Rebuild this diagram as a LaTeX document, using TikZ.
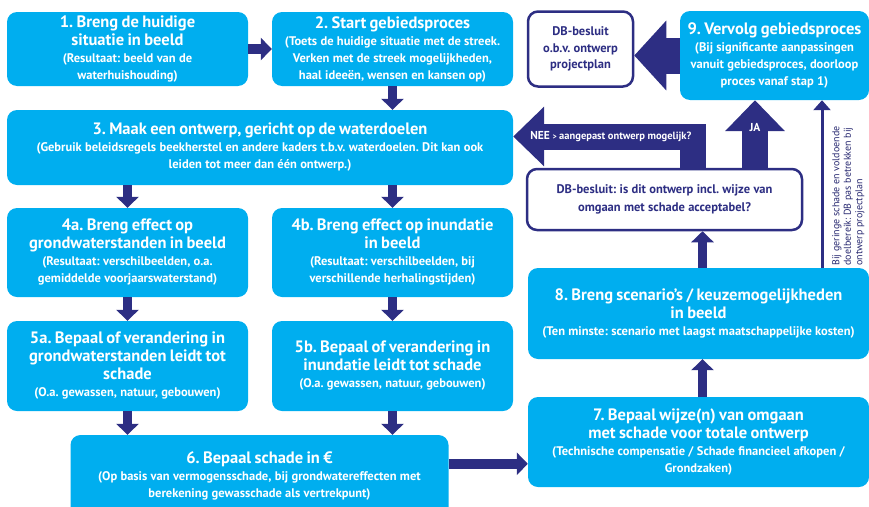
\documentclass[tikz,border=0pt]{standalone}
\usepackage{fontspec}
\setmainfont{PT Sans}
\usetikzlibrary{arrows.meta,calc}
\definecolor{boxblue}{RGB}{0,174,239}
\definecolor{arrowblue}{RGB}{45,46,131}
\newcommand{\stepfont}{\fontsize{16.5}{18}\selectfont\bfseries}
\newcommand{\notefont}{\fontsize{12.5}{17}\selectfont\bfseries}
\newcommand{\decfont}{\fontsize{12.5}{18}\selectfont\bfseries}
\frenchspacing

\begin{document}
\begin{tikzpicture}[x=1pt,y=-1pt,
	stage/.style={fill=boxblue, rounded corners=10pt, text=white, align=center, inner sep=0pt},
	decision/.style={draw=arrowblue, line width=2.5pt, fill=white, rounded corners=10pt, text=arrowblue, align=center, inner sep=0pt},
	fat/.style={draw=arrowblue, line width=9.5pt, -{Triangle[width=22pt,length=11pt]}},
	wide/.style={draw=arrowblue, line width=26pt, line join=miter, -{Triangle[width=58pt,length=31pt]}},
	big/.style={draw=arrowblue, line width=36pt, -{Triangle[width=68pt,length=32pt]}},
	slim/.style={draw=arrowblue, line width=3pt, -{Triangle[width=17pt,length=10pt]}},
	sidenote/.style={text=arrowblue!85!black, font=\fontsize{10}{11.5}\selectfont, align=left, inner sep=0pt}]
		\useasboundingbox (0,0) rectangle (869,506);
		% top row
		\node[stage, minimum width=241pt, minimum height=74pt, text width=236pt] (s1) at (127.5,49)
			{\stepfont 1. Breng de huidige\\ situatie in beeld\par\notefont (Resultaat: beeld van de\\ waterhuishouding)\par};
		\node[stage, minimum width=241pt, minimum height=74pt, text width=236pt] (s2) at (392.5,49)
			{\stepfont 2. Start gebiedsproces\par\notefont (Toets de huidige situatie met de streek.\\ Verken met de streek mogelijkheden,\\ haal ideeën, wensen en kansen op)\par};
		\node[decision, minimum width=105pt, minimum height=75pt, text width=100pt] (db) at (580.5,49)
			{\fontsize{12.5}{16.5}\selectfont\bfseries DB-besluit\\ o.b.v. ontwerp\\ projectplan\par};
		\node[stage, minimum width=189pt, minimum height=89pt, text width=184pt] (s9) at (774.5,55.5)
			{\stepfont 9. Vervolg gebiedsproces\par\notefont (Bij significante aanpassingen\\ vanuit gebiedsproces, doorloop\\ proces vanaf stap 1)\par};
		% ontwerp
		\node[stage, minimum width=506pt, minimum height=75pt, text width=500pt] (s3) at (260,147.5)
			{\stepfont 3. Maak een ontwerp, gericht op de waterdoelen\par\notefont (Gebruik beleidsregels beekherstel en andere kaders t.b.v. waterdoelen. Dit kan ook\\ leiden tot meer dan één ontwerp.)\par};
		\node[decision, minimum width=275pt, minimum height=61pt, text width=268pt] (dec) at (664.5,199.5)
			{\decfont DB-besluit: is dit ontwerp incl. wijze van\\ omgaan met schade acceptabel?\par};
		% effecten
		\node[stage, minimum width=241pt, minimum height=89pt, text width=236pt] (s4a) at (127.5,252.5)
			{\stepfont 4a. Breng effect op\\ grondwaterstanden in beeld\par\notefont (Resultaat: verschilbeelden, o.a.\\ gemiddelde voorjaarswaterstand)\par};
		\node[stage, minimum width=241pt, minimum height=89pt, text width=236pt] (s4b) at (392.5,252.5)
			{\stepfont 4b. Breng effect op inundatie\\ in beeld\par\notefont (Resultaat: verschilbeelden, bij\\ verschillende herhalingstijden)\par};
		\node[stage, minimum width=241pt, minimum height=90pt, text width=236pt] (s5a) at (127.5,366)
			{\stepfont 5a. Bepaal of verandering in\\ grondwaterstanden leidt tot\\ schade\par\notefont (O.a. gewassen, natuur, gebouwen)\par};
		\node[stage, minimum width=241pt, minimum height=90pt, text width=236pt] (s5b) at (392.5,366)
			{\stepfont 5b. Bepaal of verandering in\\ inundatie leidt tot schade\par\notefont (O.a. gewassen, natuur, gebouwen)\par};
		\node[stage, minimum width=378pt, minimum height=82pt, text width=372pt] (s6) at (259.5,476)
			{\stepfont 6. Bepaal schade in €\par\notefont (Op basis van vermogensschade, bij grondwatereffecten met\\ berekening gewasschade als vertrekpunt)\par};
		% rechts
		\node[stage, minimum width=341pt, minimum height=90pt, text width=336pt] (s7) at (698.5,442)
			{\stepfont 7. Bepaal wijze(n) van omgaan\\ met schade voor totale ontwerp\par\notefont (Technische compensatie / Schade financieel afkopen /\\ Grondzaken)\par};
		\node[stage, minimum width=341pt, minimum height=91pt, text width=336pt] (s8) at (698.5,313.5)
			{\stepfont 8. Breng scenario’s / keuzemogelijkheden\\ in beeld\par\notefont (Ten minste: scenario met laagst maatschappelijke kosten)\par};

		% pijlen
		\draw[fat] (s1.east) -- (s2.west);
		\draw[fat] (s2.south) -- (s2.south |- s3.north);
		\draw[fat] (s3.south -| s4a.north) -- (s4a.north);
		\draw[fat] (s3.south -| s4b.north) -- (s4b.north);
		\draw[fat] (s4a.south) -- (s5a.north);
		\draw[fat] (s4b.south) -- (s5b.north);
		\draw[fat] (s5a.south) -- (s5a.south |- s6.north);
		\draw[fat] (s5b.south) -- (s5b.south |- s6.north);
		\coordinate (a67) at ([yshift=-29pt]s6.north east);
		\draw[fat] (a67) -- (a67 -| s7.west);
		\coordinate (up7) at ([xshift=4pt]s7.north);
		\draw[fat] (up7) -- (up7 |- s8.south);
		\coordinate (up8) at ([xshift=4pt]s8.north);
		\draw[fat] (up8) -- (up8 |- dec.south);
		\draw[big] (s9.west) -- (s9.west -| db.east);

		\coordinate (neefoot) at ([xshift=28pt]dec.north);
		\coordinate (neetip) at ([yshift=11pt]s3.east);
		\draw[wide] (neefoot) |- (neetip);
		\node[anchor=west, text=white, inner sep=0pt, font=\bfseries] (nee) at ([xshift=17pt]neetip)
			{{\fontsize{11.5}{12}\selectfont NEE} {\fontsize{8}{8}\selectfont >} {\fontsize{10.5}{12}\selectfont aangepast ontwerp mogelijk?}};

		\coordinate (jafoot) at ([xshift=90.5pt]dec.north);
		\draw[wide] (jafoot) -- (jafoot |- s9.south)
			node[pos=0.6, text=white, font=\fontsize{11.5}{12}\selectfont\bfseries] (ja) {JA};

		\coordinate (thin) at ([xshift=123.5pt]s8.north);
		\draw[slim] (thin) -- (thin |- s9.south);
		\node[sidenote, anchor=north west, rotate=90] (side) at ([xshift=10pt,yshift=2pt]thin)
			{Bij geringe schade en voldoende\\ doelbereik: DB pas betrekken bij\\ ontwerp projectplan};
		\end{tikzpicture}
\end{document}
